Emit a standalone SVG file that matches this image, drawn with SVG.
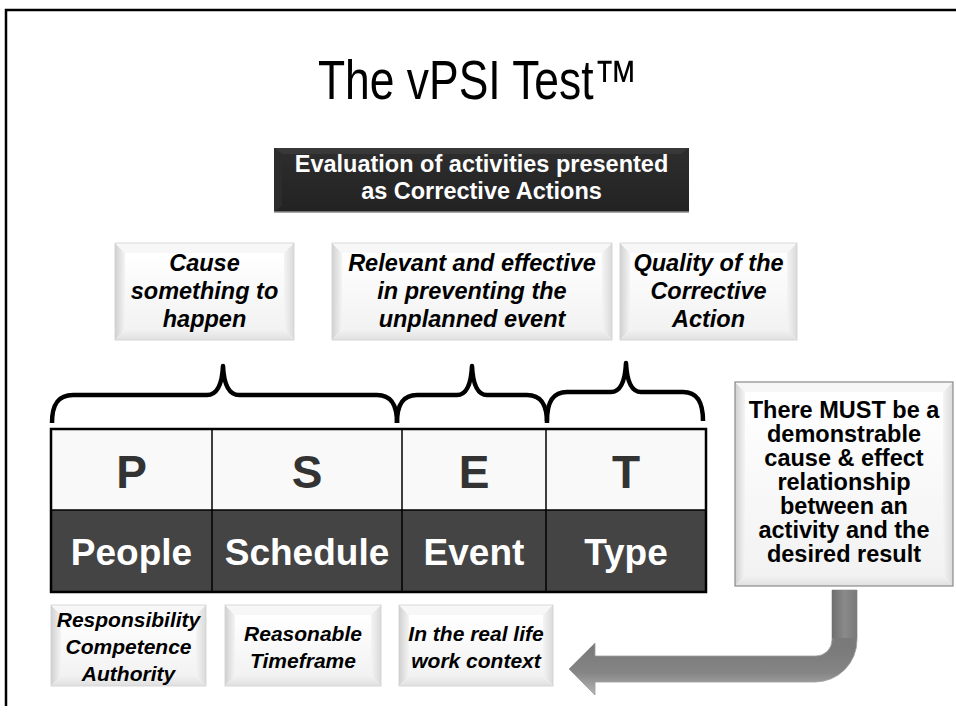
<svg xmlns="http://www.w3.org/2000/svg" width="956" height="722" viewBox="0 0 956 722">
  <defs>
    <linearGradient id="gLeft" x1="0" y1="0" x2="1" y2="0">
      <stop offset="0" stop-color="#d0d0d0"/>
      <stop offset="1" stop-color="#f4f4f4"/>
    </linearGradient>
    <linearGradient id="gRight" x1="0" y1="0" x2="1" y2="0">
      <stop offset="0" stop-color="#f4f4f4"/>
      <stop offset="1" stop-color="#dadada"/>
    </linearGradient>
    <linearGradient id="gBottom" x1="0" y1="0" x2="0" y2="1">
      <stop offset="0" stop-color="#f1f1f1"/>
      <stop offset="1" stop-color="#e0e0e0"/>
    </linearGradient>
    <linearGradient id="gCenter" x1="0" y1="0" x2="0" y2="1">
      <stop offset="0" stop-color="#ffffff"/>
      <stop offset="1" stop-color="#f2f2f2"/>
    </linearGradient>
    <linearGradient id="gDark" x1="0" y1="0" x2="0" y2="1">
      <stop offset="0" stop-color="#2e2e2e"/>
      <stop offset="1" stop-color="#222222"/>
    </linearGradient>
    <linearGradient id="gArrow" gradientUnits="userSpaceOnUse" x1="0" y1="590" x2="0" y2="696">
      <stop offset="0" stop-color="#7c7c7c"/>
      <stop offset="0.55" stop-color="#7a7a7a"/>
      <stop offset="0.78" stop-color="#858585"/>
      <stop offset="1" stop-color="#b8b8b8"/>
    </linearGradient>
    <linearGradient id="gShaft" gradientUnits="userSpaceOnUse" x1="832" y1="0" x2="857" y2="0">
      <stop offset="0" stop-color="#6f6f6f"/>
      <stop offset="0.5" stop-color="#8a8a8a"/>
      <stop offset="1" stop-color="#7a7a7a"/>
    </linearGradient>
  </defs>
  <style>
    .bl { fill: url(#gLeft); }
    .bt { fill: #f7f7f7; }
    .br { fill: url(#gRight); }
    .bb { fill: url(#gBottom); }
    .bc { fill: url(#gCenter); }
    .edge { fill: none; stroke: #cfcfcf; stroke-width: 0.8; }
    .lbl { font-family: "Liberation Sans", Arial, sans-serif; font-weight: bold; font-style: italic; fill: #000; text-anchor: middle; }
    .big { font-size: 23.5px; }
    .small { font-size: 21px; }
    .rule { font-family: "Liberation Sans", Arial, sans-serif; font-weight: bold; font-size: 23.5px; fill: #000; text-anchor: middle; }
    .brace { fill: none; stroke: #000; stroke-width: 4.5; stroke-linecap: butt; stroke-linejoin: round; }
    .cell { stroke: #000; stroke-width: 1.5; }
    .letter { font-family: "Liberation Sans", Arial, sans-serif; font-weight: bold; font-size: 46px; fill: #333; text-anchor: middle; }
    .word { font-family: "Liberation Sans", Arial, sans-serif; font-weight: bold; font-size: 37px; fill: #fff; text-anchor: middle; }
  </style>

  <rect width="956" height="722" fill="#fff"/>

  <!-- slide frame -->
  <path d="M6,706 V10 H956" fill="none" stroke="#000" stroke-width="2.5"/>

  <!-- title -->
  <text id="title" x="478" y="99" font-family="'Liberation Sans', Arial, sans-serif" font-size="56" fill="#000" text-anchor="middle" textLength="320" lengthAdjust="spacingAndGlyphs">The vPSI Test™</text>

  <!-- heading box -->
  <g id="heading">
    <rect x="274" y="148" width="415" height="64" fill="url(#gDark)"/>
    <polygon points="274,148 689,148 681,154 282,154" fill="#383838"/>
    <polygon points="274,148 282,154 282,206 274,212" fill="#2c2c2c"/>
    <line x1="274" y1="212" x2="689" y2="212" stroke="#8c8c8c" stroke-width="1.5"/>
    <text x="481.5" y="172" font-family="'Liberation Sans', Arial, sans-serif" font-weight="bold" font-size="23.5" fill="#fff" text-anchor="middle">Evaluation of activities presented</text>
    <text x="481.5" y="199" font-family="'Liberation Sans', Arial, sans-serif" font-weight="bold" font-size="23.5" fill="#fff" text-anchor="middle">as Corrective Actions</text>
  </g>

  <!-- upper criteria -->
  <g id="cause">
    <polygon class="bl" points="115,243 125,253 125,330 115,340"/>
    <polygon class="bt" points="115,243 294,243 284,253 125,253"/>
    <polygon class="br" points="294,243 294,340 284,330 284,253"/>
    <polygon class="bb" points="115,340 125,330 284,330 294,340"/>
    <rect class="bc" x="125" y="253" width="159" height="77"/>
    <rect class="edge" x="115" y="243" width="179" height="97"/>
    <text class="lbl big" x="204.5" y="271">Cause</text>
    <text class="lbl big" x="204.5" y="299">something to</text>
    <text class="lbl big" x="204.5" y="327">happen</text>
  </g>

  <g id="relevant">
    <polygon class="bl" points="332,243 342,253 342,330 332,340"/>
    <polygon class="bt" points="332,243 612,243 602,253 342,253"/>
    <polygon class="br" points="612,243 612,340 602,330 602,253"/>
    <polygon class="bb" points="332,340 342,330 602,330 612,340"/>
    <rect class="bc" x="342" y="253" width="260" height="77"/>
    <rect class="edge" x="332" y="243" width="280" height="97"/>
    <text class="lbl big" x="472" y="271">Relevant and effective</text>
    <text class="lbl big" x="472" y="299">in preventing the</text>
    <text class="lbl big" x="472" y="327">unplanned event</text>
  </g>

  <g id="quality">
    <polygon class="bl" points="620,243 630,253 630,330 620,340"/>
    <polygon class="bt" points="620,243 797,243 787,253 630,253"/>
    <polygon class="br" points="797,243 797,340 787,330 787,253"/>
    <polygon class="bb" points="620,340 630,330 787,330 797,340"/>
    <rect class="bc" x="630" y="253" width="157" height="77"/>
    <rect class="edge" x="620" y="243" width="177" height="97"/>
    <text class="lbl big" x="708.5" y="271">Quality of the</text>
    <text class="lbl big" x="708.5" y="299">Corrective</text>
    <text class="lbl big" x="708.5" y="327">Action</text>
  </g>

  <!-- braces over the table -->
  <g id="braces">
    <path class="brace" d="M52,423 C52,406 57,395 73,395 H207 C216,395 222,386 223,366 C224,386 230,395 239,395 H377 C392,395 397,406 397,423"/>
    <path class="brace" d="M397,423 C397,406 402,395 417,395 H457 C466,395 471,386 472,366 C473,386 478,395 487,395 H527 C542,395 547,406 547,423"/>
    <path class="brace" d="M547,421 C547,403 552,392 567,392 H611 C620,392 625,383 626,363 C627,383 632,392 641,392 H683 C698,392 703,403 703,421"/>
  </g>

  <!-- PSET table -->
  <g id="table">
    <rect x="51" y="429" width="655" height="81" fill="#f9f9f9"/>
    <rect x="51" y="510" width="655" height="82" fill="#444"/>
    <line class="cell" x1="212" y1="429" x2="212" y2="592"/>
    <line class="cell" x1="402" y1="429" x2="402" y2="592"/>
    <line class="cell" x1="546" y1="429" x2="546" y2="592"/>
    <line class="cell" x1="51" y1="510" x2="706" y2="510"/>
    <rect x="51" y="429" width="655" height="163" fill="none" stroke="#000" stroke-width="2.5"/>
    <text class="letter" x="131.5" y="488">P</text>
    <text class="letter" x="307" y="488">S</text>
    <text class="letter" x="474" y="488">E</text>
    <text class="letter" x="626" y="488">T</text>
    <text class="word" x="131.5" y="565">People</text>
    <text class="word" x="307" y="565">Schedule</text>
    <text class="word" x="474" y="565">Event</text>
    <text class="word" x="626" y="565">Type</text>
  </g>

  <!-- lower criteria -->
  <g id="responsibility">
    <polygon class="bl" points="51,605 61,615 61,676 51,686"/>
    <polygon class="bt" points="51,605 206,605 196,615 61,615"/>
    <polygon class="br" points="206,605 206,686 196,676 196,615"/>
    <polygon class="bb" points="51,686 61,676 196,676 206,686"/>
    <rect class="bc" x="61" y="615" width="135" height="61"/>
    <rect class="edge" x="51" y="605" width="155" height="81"/>
    <text class="lbl small" x="128.5" y="627">Responsibility</text>
    <text class="lbl small" x="128.5" y="654">Competence</text>
    <text class="lbl small" x="128.5" y="681">Authority</text>
  </g>

  <g id="timeframe">
    <polygon class="bl" points="225,605 235,615 235,676 225,686"/>
    <polygon class="bt" points="225,605 381,605 371,615 235,615"/>
    <polygon class="br" points="381,605 381,686 371,676 371,615"/>
    <polygon class="bb" points="225,686 235,676 371,676 381,686"/>
    <rect class="bc" x="235" y="615" width="136" height="61"/>
    <rect class="edge" x="225" y="605" width="156" height="81"/>
    <text class="lbl small" x="303" y="641">Reasonable</text>
    <text class="lbl small" x="303" y="668">Timeframe</text>
  </g>

  <g id="context">
    <polygon class="bl" points="399,605 409,615 409,676 399,686"/>
    <polygon class="bt" points="399,605 553,605 543,615 409,615"/>
    <polygon class="br" points="553,605 553,686 543,676 543,615"/>
    <polygon class="bb" points="399,686 409,676 543,676 553,686"/>
    <rect class="bc" x="409" y="615" width="134" height="61"/>
    <rect class="edge" x="399" y="605" width="154" height="81"/>
    <text class="lbl small" x="476" y="641">In the real life</text>
    <text class="lbl small" x="476" y="668">work context</text>
  </g>

  <!-- cause and effect statement -->
  <g id="rule">
    <polygon class="bl" points="735,382 745,392 745,576 735,586"/>
    <polygon class="bt" points="735,382 953,382 943,392 745,392"/>
    <polygon class="br" points="953,382 953,586 943,576 943,392"/>
    <polygon class="bb" points="735,586 745,576 943,576 953,586"/>
    <rect class="bc" x="745" y="392" width="198" height="184"/>
    <rect x="735" y="382" width="218" height="204" fill="none" stroke="#8a8a8a" stroke-width="1.2"/>
    <text class="rule" x="844" y="418">There MUST be a</text>
    <text class="rule" x="844" y="442">demonstrable</text>
    <text class="rule" x="844" y="466">cause &amp; effect</text>
    <text class="rule" x="844" y="490">relationship</text>
    <text class="rule" x="844" y="514">between an</text>
    <text class="rule" x="844" y="538">activity and the</text>
    <text class="rule" x="844" y="562">desired result</text>
  </g>

  <!-- bent arrow back to the criteria -->
  <g id="connectors">
    <path d="M832,590 H857 V640 A42,42 0 0 1 815,682 H595 V695 L569,669 L595,643 V656 H816 A16,16 0 0 0 832,640 Z" fill="url(#gArrow)" stroke="#9c9c9c" stroke-width="0.8"/>
    <rect x="832" y="590" width="25" height="48" fill="url(#gShaft)"/>
  </g>
</svg>
